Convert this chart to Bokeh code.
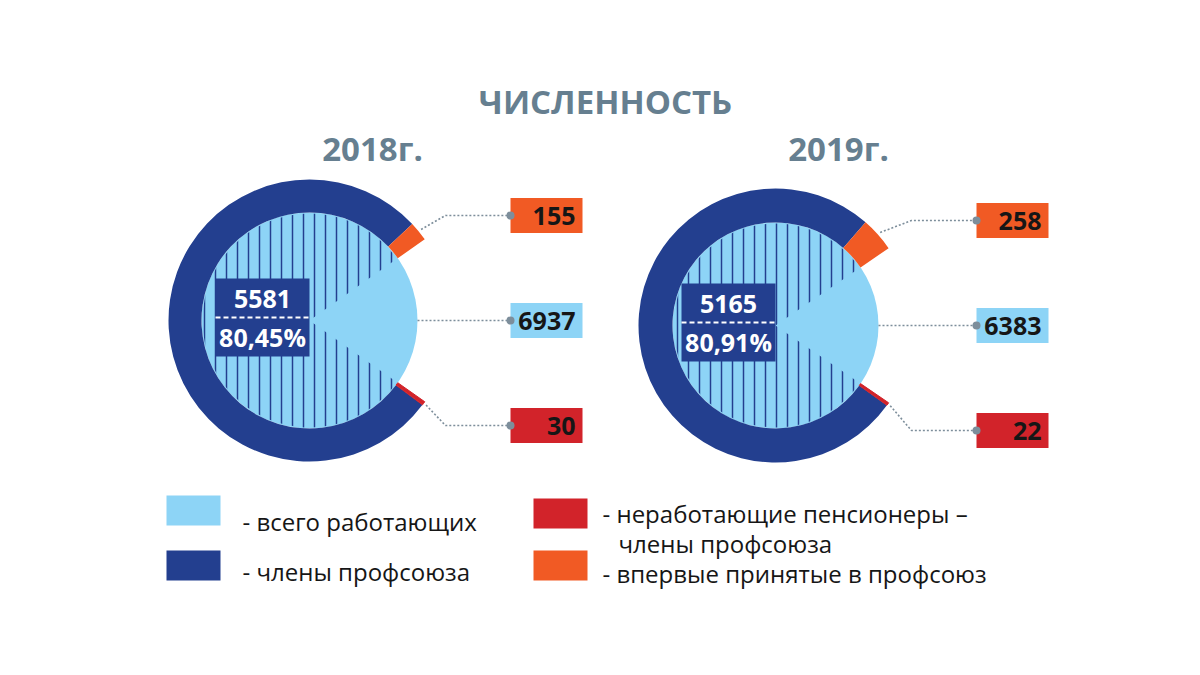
import math
from bokeh.plotting import figure
from bokeh.models import Range1d
from bokeh.core.properties import value
from bokeh.embed import file_html
from bokeh.resources import INLINE

# ---- data ----
title = "ЧИСЛЕННОСТЬ"
years = ["2018г.", "2019г."]
total_workers = [6937, 6383]
members = [5581, 5165]
member_pct = ["80,45%", "80,91%"]
new_members = [155, 258]
pensioners = [30, 22]
legend_labels = ["- всего работающих", "- члены профсоюза",
                 "- неработающие пенсионеры –", "- впервые принятые в профсоюз"]
legend_extra = "члены профсоюза"

# ---- style ----
LIGHT = "#8dd4f6"
DARK = "#233f8f"
ORANGE = "#f15a24"
RED = "#d2232a"
GREY = "#667f90"
LEAD = "#7d8e9b"
FONT = value("Open Sans")

W, H = 1184, 659
p = figure(width=W, height=H, output_backend="svg", toolbar_location=None,
           x_range=Range1d(0, 1184), y_range=Range1d(16, 675),
           x_axis_location=None, y_axis_location=None, min_border=0)
p.outline_line_color = None
p.grid.visible = False
p.background_fill_color = "white"

def Y(py):  # page pixel y -> data y
    return 675 - py

rad = math.radians

# chart layout (pixel centres and radii)
centers = [(309, 320), (775, 325)]
r_in = [108, 103]
r_out = [141, 137]

for i in range(2):
    cx, py = centers[i]
    cy = Y(py)
    t = total_workers[i]
    half_gap = 180.0 * (1 - members[i] / t)
    a_new = new_members[i] / t * 360.0
    a_pen = pensioners[i] / t * 360.0

    # light-blue full disc (all workers)
    p.circle(x=[cx], y=[cy], radius=r_in[i], fill_color=LIGHT, line_color=None)
    # hatched slice: members share
    p.wedge(x=[cx], y=[cy], radius=r_in[i] - 1, start_angle=[rad(half_gap)],
            end_angle=[rad(360 - half_gap)], fill_alpha=0,
            line_color=None, hatch_pattern="vertical_line", hatch_color=DARK,
            hatch_scale=11, hatch_weight=1.5)
    # outer ring
    o0, o1 = half_gap, half_gap + a_new
    r0, r1 = 360 - half_gap - a_pen, 360 - half_gap
    p.annular_wedge(x=[cx], y=[cy], inner_radius=r_in[i], outer_radius=r_out[i],
                    start_angle=[rad(o1)], end_angle=[rad(r0)],
                    fill_color=DARK, line_color=None)
    p.annular_wedge(x=[cx], y=[cy], inner_radius=r_in[i], outer_radius=r_out[i],
                    start_angle=[rad(o0)], end_angle=[rad(o1)],
                    fill_color=ORANGE, line_color=None)
    p.annular_wedge(x=[cx], y=[cy], inner_radius=r_in[i], outer_radius=r_out[i],
                    start_angle=[rad(r0)], end_angle=[rad(r1)],
                    fill_color=RED, line_color=RED, line_width=1)

    # centre label box
    bx = cx - 47
    by = cy + 3
    p.rect(x=[bx], y=[by], width=94, height=78, fill_color=DARK, line_color=None)
    p.segment(x0=[bx - 47], y0=[by], x1=[bx + 47], y1=[by], line_color="white",
              line_width=2, line_dash="5 3")
    p.text(x=[bx], y=[by + 19], text=[str(members[i])], text_align="center",
           text_baseline="middle", text_color="white", text_font=FONT,
           text_font_style="bold", text_font_size="25px")
    p.text(x=[bx], y=[by - 19], text=[member_pct[i]], text_align="center",
           text_baseline="middle", text_color="white", text_font=FONT,
           text_font_style="bold", text_font_size="25px")

    # year label
    p.text(x=[cx + 63], y=[Y(148)], text=[years[i]], text_align="center",
           text_baseline="middle", text_color=GREY, text_font=FONT,
           text_font_style="bold", text_font_size="33px")

    # callouts
    box_l = cx + 201
    elbow_x = cx + 136
    vals = [new_members[i], total_workers[i], pensioners[i]]
    cols = [ORANGE, LIGHT, RED]
    dys = [105, 0, -105]
    mids = [rad((o0 + o1) / 2), 0.0, rad((r0 + r1) / 2)]
    for k in range(3):
        yy = cy + dys[k]
        p.rect(x=[box_l + 36], y=[yy], width=72, height=35,
               fill_color=cols[k], line_color=None)
        p.text(x=[box_l + 65], y=[yy], text=[str(vals[k])], text_align="right",
               text_baseline="middle", text_color="#161616", text_font=FONT,
               text_font_style="bold", text_font_size="25px")
        if k == 1:
            xs = [cx + r_in[i], box_l]
            ys = [yy, yy]
        else:
            sx = cx + (r_out[i] + 3) * math.cos(mids[k])
            sy = cy + (r_out[i] + 3) * math.sin(mids[k])
            xs = [sx, elbow_x, box_l]
            ys = [sy, yy, yy]
        p.line(x=xs, y=ys, line_color=LEAD, line_width=1.6, line_dash="2 2")
        p.scatter(x=[box_l], y=[yy], size=8, fill_color=LEAD, line_color=None)

# title
p.text(x=[605], y=[Y(101)], text=[title], text_align="center",
       text_baseline="middle", text_color=GREY, text_font=FONT,
       text_font_style="bold", text_font_size="33px")

# legend
sq_x = [193, 193, 560, 560]
sq_y = [510, 565, 513, 565]
sq_c = [LIGHT, DARK, RED, ORANGE]
p.rect(x=sq_x, y=[Y(v) for v in sq_y], width=54, height=30, fill_color=sq_c,
       line_color=None)
lt_x = [242, 242, 602, 602]
lt_y = [521, 571, 513, 573]
p.text(x=lt_x, y=[Y(v) for v in lt_y], text=legend_labels, text_align="left",
       text_baseline="middle", text_color="#161616", text_font=FONT,
       text_font_size="24px")
p.text(x=[618], y=[Y(543)], text=[legend_extra], text_align="left",
       text_baseline="middle", text_color="#161616", text_font=FONT,
       text_font_size="24px")

open("out.html", "w").write(file_html(p, INLINE))
